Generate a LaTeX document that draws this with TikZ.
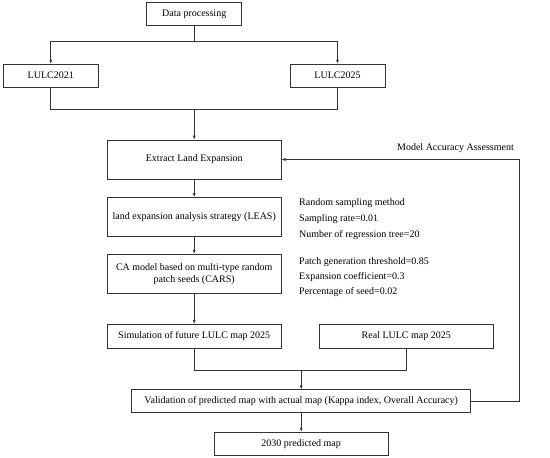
\documentclass[tikz,border=0pt]{standalone}
\usepackage{fontspec}
\setmainfont{Liberation Serif}
\usetikzlibrary{arrows.meta, positioning}

\begin{document}
\begin{tikzpicture}[
    x=1pt, y=-1pt,
    box/.style={rectangle, draw=black!80, line width=0.7pt, minimum height=23pt, text centered, font=\fontsize{10}{12}\selectfont, inner sep=2pt},
    wide/.style={box, minimum width=174pt},
    param/.style={anchor=west, inner sep=0pt, font=\fontsize{10}{12}\selectfont},
    flow/.style={-{Latex[length=4pt, width=3pt]}, line width=0.7pt, draw=black!80},
    line/.style={line width=0.7pt, draw=black!80}
]
    \useasboundingbox (0,0) rectangle (550,458);

    % Input data
    \node[box, minimum width=95pt] (dataproc) at (194.2, 14.2) {Data processing};
    \node[box, minimum width=95pt] (lulcA) at (50.8, 75.7) {LULC2021};
    \node[box, minimum width=95pt] (lulcB) at (337.5, 75.7) {LULC2025};
    \coordinate (split) at (194.2, 41.7);
    \coordinate (join) at (194.2, 109.7);
    \draw[line] (dataproc) -- (split);
    \draw[flow] (split) -| (lulcA);
    \draw[flow] (split) -| (lulcB);
    \draw[line] (lulcA) |- (join);
    \draw[line] (lulcB) |- (join);

    % Model chain
    \node[wide, minimum height=39pt] (extract) at (194.2, 159.5) {Extract Land Expansion};
    \node[wide, minimum height=39pt] (leas) at (194.2, 217) {land expansion analysis strategy (LEAS)};
    \node[wide, minimum height=39pt, align=center] (cars) at (194.2, 273.8) {CA model based on multi-type random\\patch seeds (CARS)};
    \node[wide, minimum height=24pt] (sim) at (194.2, 336.3) {Simulation of future LULC map 2025};
    \node[wide, minimum height=24pt] (real) at (406.3, 336.3) {Real LULC map 2025};
    \draw[flow] (join) -- (extract);
    \draw[flow] (extract) -- (leas);
    \draw[flow] (leas) -- (cars);
    \draw[flow] (cars) -- (sim);

    % Parameters
    \node[param] (rsmethod) at (299, 202.7) {Random sampling method};
    \node[param] (rsrate) at (299, 218.7) {Sampling rate=0.01};
    \node[param] (rstree) at (299, 235) {Number of regression tree=20};
    \node[param] (pthresh) at (299, 261.7) {Patch generation threshold=0.85};
    \node[param] (pcoef) at (299, 276.7) {Expansion coefficient=0.3};
    \node[param] (pseed) at (299, 291.7) {Percentage of seed=0.02};

    % Validation
    \coordinate (merge) at (301.2, 370);
    \node[box, minimum width=339pt] (valid) at (301.2, 401.3) {Validation of predicted map with actual map (Kappa index, Overall Accuracy)};
    \node[wide] (future) at (301.2, 443.7) {2030 predicted map};
    \draw[line] (sim) |- (merge);
    \draw[line] (real) |- (merge);
    \draw[flow] (merge) -- (valid);
    \draw[flow] (valid) -- (future);

    % Feedback loop
    \coordinate (corner) at (519, 401.3);
    \draw[flow] (valid) -- (corner) |- (extract);
    \node[param, anchor=east] (assess) at (514, 147.7) {Model Accuracy Assessment};

\end{tikzpicture}
\end{document}
